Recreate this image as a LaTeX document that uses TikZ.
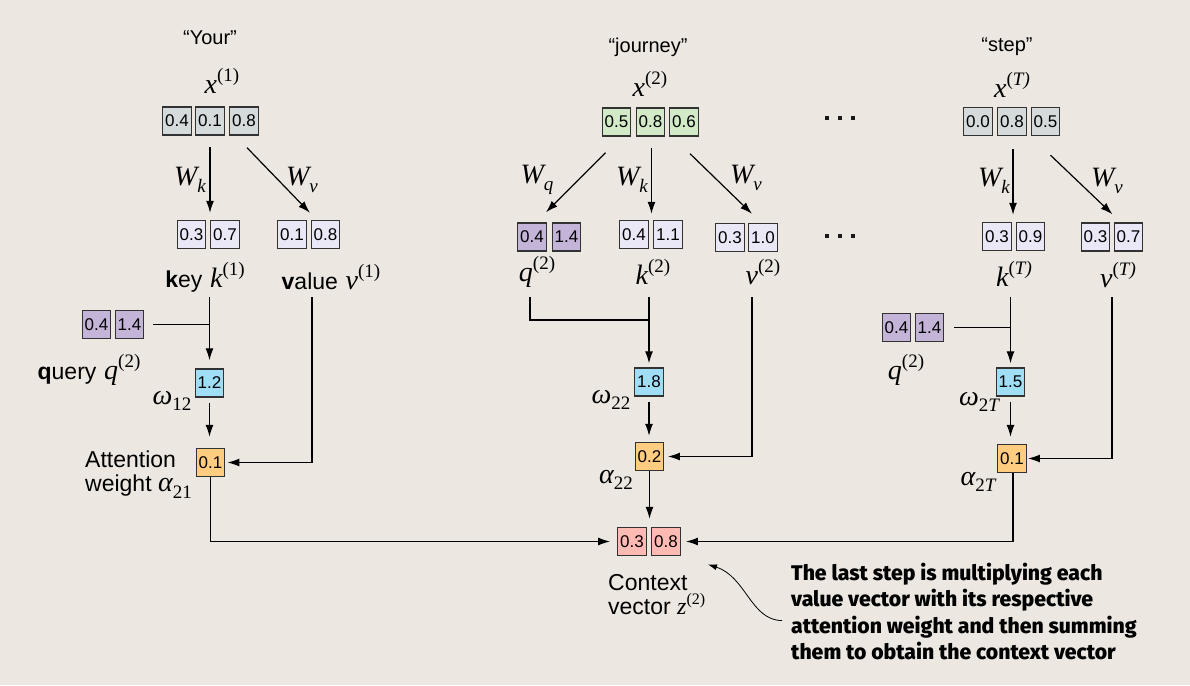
\documentclass[tikz,border=0pt]{standalone}
\usepackage{fontspec}
\setmainfont{Liberation Sans}
\newfontfamily\mserif{Liberation Serif}
\IfFontExistsTF{Fira Sans ExtraBold}
  {\newfontfamily\annfont{Fira Sans ExtraBold}\newcommand\annsize{\fontsize{21.2pt}{26.3pt}\selectfont}}
  {\newfontfamily\annfont{Fira Sans}[UprightFont=*Bold]\newcommand\annsize{\fontsize{21.3pt}{26.3pt}\selectfont}}
\usetikzlibrary{arrows.meta,calc}
\definecolor{bgc}{RGB}{236,232,225}
\definecolor{bordc}{RGB}{50,50,50}
\definecolor{grayc}{RGB}{213,218,218}
\definecolor{greenc}{RGB}{210,234,200}
\definecolor{lavc}{RGB}{234,232,246}
\definecolor{purc}{RGB}{196,180,216}
\definecolor{bluec}{RGB}{160,222,245}
\definecolor{orc}{RGB}{255,204,128}
\definecolor{pinkc}{RGB}{255,186,180}
\newcommand\mv[1]{{\mserif\itshape #1}}
\newcommand\supx[2]{\mv{#1}\raisebox{0.42em}{\fontsize{19pt}{20pt}\selectfont\mserif(#2)}}
\newcommand\subx[2]{\mv{#1}\raisebox{-0.24em}{\fontsize{19pt}{20pt}\selectfont\mserif #2}}
\newcommand\labf{\fontsize{23pt}{25pt}\selectfont}
\newcommand\mathf{\fontsize{28pt}{30pt}\selectfont}
\tikzset{
  cellbase/.style={draw=bordc, line width=1.4pt, minimum width=28.5pt, minimum height=28pt,
    inner sep=0pt, font=\fontsize{17pt}{18pt}\selectfont, text=black},
  gcell/.style={cellbase, fill=grayc},
  gncell/.style={cellbase, fill=greenc},
  kcell/.style={cellbase, fill=lavc},
  qcell/.style={cellbase, fill=purc},
  wcell/.style={cellbase, fill=bluec},
  acell/.style={cellbase, fill=orc},
  zcell/.style={cellbase, fill=pinkc},
  quote/.style={font=\fontsize{20pt}{22pt}\selectfont, inner sep=0pt},
  mlab/.style={font=\mathf, inner sep=0pt},
  slab/.style={font=\mathf, inner sep=0pt},
  arr/.style={line width=1.2pt, -{Latex[length=12pt,width=8pt]}},
  ln/.style={line width=1.2pt},
  dotsq/.style={fill=black!90, minimum size=4pt, inner sep=0pt},
}
\begin{document}
\begin{tikzpicture}[x=1pt,y=-1pt]
\fill[bgc] (0,0) rectangle (1190,685);
\useasboundingbox (0,0) rectangle (1190,685);

% ================= column 1 =================
\node[quote] (t1) at (210,38) {“Your”};
\node[mlab] (x1l) at (222,81) {\supx{x}{1}};
\node[gcell] (x1a) at (177,121) {0.4};
\node[gcell] (x1b) at (210,121) {0.1};
\node[gcell] (x1c) at (244,121) {0.8};
\node[kcell] (k1a) at (191.5,234.5) {0.3};
\node[kcell] (k1b) at (225,234.5) {0.7};
\node[kcell] (v1a) at (292,234.5) {0.1};
\node[kcell] (v1b) at (325.5,234.5) {0.8};
\draw[arr, shorten <=11pt, shorten >=7pt] (x1b.south) -- (x1b.south |- k1a.north);
\draw[arr] ($(x1c.south)+(3,12)$) -- ($(v1a.north east)+(3,-7)$);
\node[mlab] (wk1) at (190,180) {\subx{W}{\itshape k}};
\node[mlab] (wv1) at (302,180) {\subx{W}{\itshape v}};
\node[slab] (k1l) at (205,277) {{\labf\textbf{k}ey} \supx{k}{1}};
\node[slab] (v1l) at (331,277) {{\labf\textbf{v}alue} \supx{v}{1}};
\node[qcell] (q1a) at (96.5,324.5) {0.4};
\node[qcell] (q1b) at (129.5,324.5) {1.4};
\node[slab] (q1l) at (89,370) {{\labf\textbf{q}uery} \supx{q}{2}};
\node[wcell] (w1) at (209.5,383) {1.2};
\node[mlab] (w1l) at (172,401) {\subx{ω}{12}};
\node[acell] (a1) at (210.5,462.5) {0.1};
\node[anchor=west, align=left, font=\labf, inner sep=0pt] (a1l) at (85,475)
  {Attention\\[-1pt]weight {\mathf\subx{α}{21}}};
\coordinate (k1o) at (209.5,297);
\coordinate (v1o) at (312,297);
\draw[arr, shorten >=8pt] (k1o) -- (w1.north);
\draw[ln] ($(q1b.east)+(9,0)$) -- (k1o |- q1b.east);
\draw[arr, shorten >=2pt] (v1o) |- (a1.east);
\draw[arr, shorten <=5pt, shorten >=11pt] (w1.south) -- (w1.south |- a1.north);

% ================= column 2 =================
\node[quote] (t2) at (648,47) {“journey”};
\node[mlab] (x2l) at (650,84) {\supx{x}{2}};
\node[gncell] (x2a) at (616.5,122) {0.5};
\node[gncell] (x2b) at (650.5,122) {0.8};
\node[gncell] (x2c) at (684,122) {0.6};
\node[qcell] (q2a) at (532,237) {0.4};
\node[qcell] (q2b) at (566.5,237) {1.4};
\node[kcell] (k2a) at (634,234.5) {0.4};
\node[kcell] (k2b) at (668,234.5) {1.1};
\node[kcell] (v2a) at (730,237.5) {0.3};
\node[kcell] (v2b) at (763,237.5) {1.0};
\draw[arr] ($(x2a.south)+(-11,16)$) -- ($(q2a.north east)+(-1,-10)$);
\draw[arr, shorten <=11pt, shorten >=6pt] ($(x2b.south)+(1,0)$) -- ($(x2b.south |- k2a.north)+(1,0)$);
\draw[arr] ($(x2c.south)+(6,17)$) -- ($(v2a.north east)+(7,-9)$);
\node[mlab] (wq2) at (537,180) {\subx{W}{\itshape q}};
\node[mlab] (wk2) at (632,180) {\subx{W}{\itshape k}};
\node[mlab] (wv2) at (746,178) {\subx{W}{\itshape v}};
\node[mlab] (q2l) at (537,272) {\supx{q}{2}};
\node[mlab] (k2l) at (653,272) {\supx{k}{2}};
\node[mlab] (v2l) at (763,272) {\supx{v}{2}};
\node[wcell] (w2) at (649,382) {1.8};
\node[mlab] (w2l) at (611,400) {\subx{ω}{22}};
\node[acell] (a2) at (649.5,456.5) {0.2};
\node[mlab] (a2l) at (616,480) {\subx{α}{22}};
\coordinate (q2o) at (530,297);
\coordinate (k2o) at (649,297);
\coordinate (v2o) at (752,297);
\draw[ln] (q2o) |- ($(k2o)+(0,23)$);
\draw[arr, shorten >=4pt] (k2o) -- (w2.north);
\draw[arr, shorten >=3.5pt] (v2o) |- (a2.east);
\draw[arr, shorten <=5pt, shorten >=6pt] (w2.south) -- (w2.south |- a2.north);

% ================= column T =================
\node[quote] (t3) at (1007,47) {“step”};
\node[mlab] (xTl) at (1012,85) {\supx{x}{\itshape T}};
\node[gcell] (xTa) at (978,121.5) {0.0};
\node[gcell] (xTb) at (1012,121.5) {0.8};
\node[gcell] (xTc) at (1045.5,121.5) {0.5};
\node[kcell] (kTa) at (997,236.5) {0.3};
\node[kcell] (kTb) at (1030.5,236.5) {0.9};
\node[kcell] (vTa) at (1095.5,237) {0.3};
\node[kcell] (vTb) at (1128.5,237) {0.7};
\draw[arr, shorten <=13pt, shorten >=7pt] ($(xTb.south)+(1,0)$) -- ($(xTb.south |- kTa.north)+(1,0)$);
\draw[arr] ($(xTc.south)+(5,19)$) -- ($(vTa.north east)+(2,-8)$);
\node[mlab] (wkT) at (994,181) {\subx{W}{\itshape k}};
\node[mlab] (wvT) at (1107,181) {\subx{W}{\itshape v}};
\node[mlab] (kTl) at (1014,274) {\supx{k}{\itshape T}};
\node[mlab] (vTl) at (1118,275) {\supx{v}{\itshape T}};
\node[qcell] (qTa) at (896.5,327.5) {0.4};
\node[qcell] (qTb) at (929.5,327.5) {1.4};
\node[mlab] (qTl) at (906,370) {\supx{q}{2}};
\node[wcell] (wT) at (1010.5,382) {1.5};
\node[mlab] (wTl) at (979,402) {\subx{ω}{2\itshape T}};
\node[acell] (aT) at (1012,458.5) {0.1};
\node[mlab] (aTl) at (978,482) {\subx{α}{2\itshape T}};
\coordinate (kTo) at (1010.5,297);
\coordinate (vTo) at (1112,297);
\draw[arr, shorten >=4pt] (kTo) -- (wT.north);
\draw[ln] ($(qTb.east)+(10,0)$) -- (kTo |- qTb.east);
\draw[arr, shorten >=1pt] (vTo) |- (aT.east);
\draw[arr, shorten <=5pt, shorten >=7pt] (wT.south) -- (wT.south |- aT.north);

% dots
\foreach \dx in {827,840,853} {
  \node[dotsq] at (\dx,118) {};
  \node[dotsq] at (\dx,236) {};
}

% ================= context =================
\node[zcell] (za) at (632,541.5) {0.3};
\node[zcell] (zb) at (666,541.5) {0.8};
\node[anchor=west, align=left, font=\labf, inner sep=0pt] (zl) at (608,595)
  {Context\\[-1pt]vector {\fontsize{24pt}{26pt}\selectfont\mv{z}\raisebox{0.42em}{\fontsize{16pt}{18pt}\selectfont\mserif(2)}}};
\draw[arr, shorten >=7pt] (a1.south) |- (za.west);
\draw[arr, shorten >=8pt] (a2.south) -- (a2.south |- za.north);
\draw[arr, shorten >=5pt] ($(aT.south)+(1,0)$) |- (zb.east);

% annotation
\node[anchor=north west, align=left, inner sep=0pt,
  font=\annfont\annsize] (ann) at (791,563)
  {The last step is multiplying each\\value vector with its respective\\attention weight and then summing\\them to obtain the context vector};
\draw[line width=0.8pt, -{Latex[length=9pt,width=6pt]}]
  ($(ann.west)+(-9,9)$) .. controls ($(ann.west)+(-40,9)$) and ($(ann.west)+(-45,-35)$) .. ($(zb.east)+(27,23)$);
\end{tikzpicture}
\end{document}
